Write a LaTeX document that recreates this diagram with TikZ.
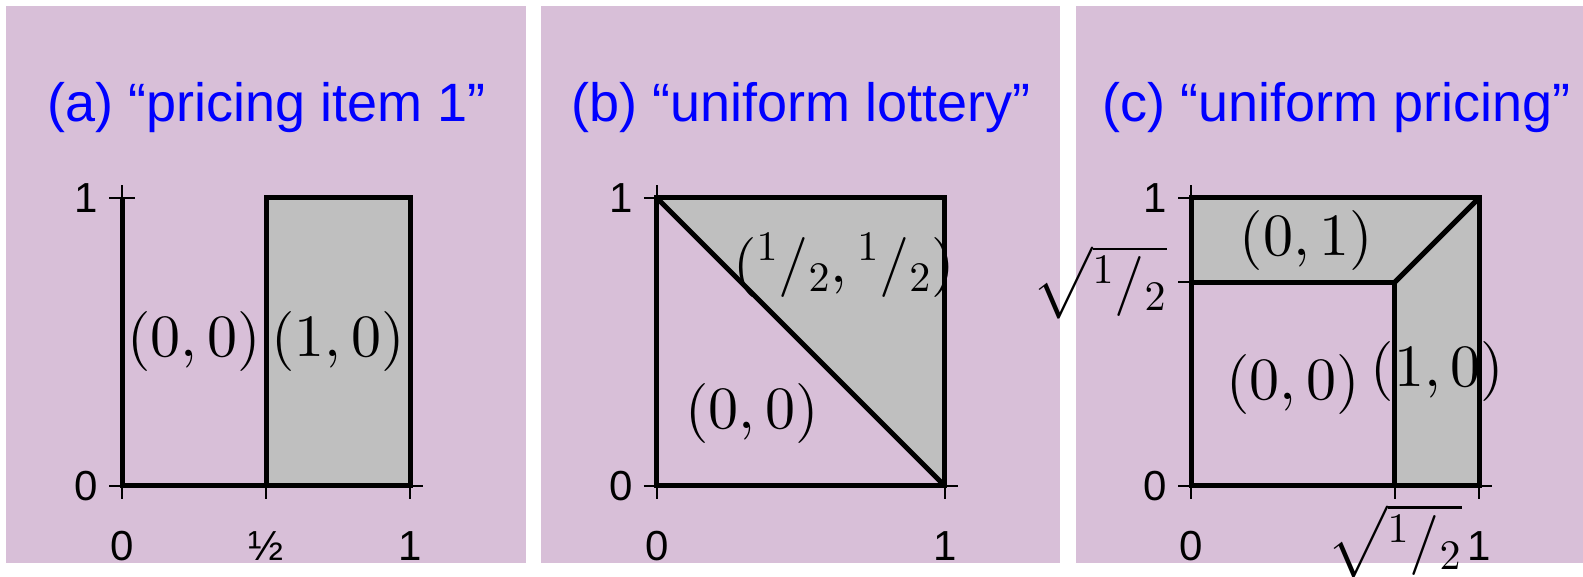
\documentclass[tikz,border=0pt]{standalone}
\usepackage{fontspec}
\setsansfont{Liberation Sans}
\usepackage{tikz}
\usetikzlibrary{positioning}

% scalable math fonts
\DeclareFontShape{OT1}{cmr}{m}{n}{<->cmr10}{}
\DeclareFontShape{OML}{cmm}{m}{it}{<->cmmi10}{}
\DeclareFontShape{OMS}{cmsy}{m}{n}{<->cmsy10}{}
\DeclareFontShape{OMX}{cmex}{m}{n}{<->cmex10}{}

\definecolor{panelbg}{RGB}{216,191,216}
\definecolor{regiongray}{RGB}{191,191,191}
\newcommand{\halfval}{{}^1/{}_2}

\begin{document}
\begin{tikzpicture}[
    x=1pt, y=1pt,
    panel/.style={fill=panelbg, draw=none},
    region/.style={fill=regiongray, draw=none},
    border/.style={line width=2.5pt},
    axisline/.style={line width=0.85pt},
    heading/.style={text=blue, font=\sffamily\fontsize{27}{32}\selectfont, anchor=base},
    ylabel/.style={font=\sffamily\fontsize{21}{25}\selectfont, inner sep=0pt, anchor=east},
    xlabel/.style={font=\sffamily\fontsize{21}{25}\selectfont, inner sep=0pt, anchor=base},
    payoff/.style={font=\fontsize{30}{36}\selectfont, inner sep=0pt}
]
    \useasboundingbox (0,0) rectangle (791.5,288.5);

    % Panels
    \fill[panel] (3,7) rectangle (263,285.5);
    \fill[panel] (270.5,7) rectangle (530,285.5);
    \fill[panel] (538,7) rectangle (791.5,285.5);

    % Headings
    \node[heading] (headA) at (133.5,227.5) {(a) “pricing item 1”};
    \node[heading] (headB) at (400.6,227.5) {(b) “uniform lottery”};
    \node[heading] (headC) at (668.2,227.5) {(c) “uniform pricing”};

    % (a) pricing item 1
    \begin{scope}[shift={(61,45.5)}, x=144pt, y=144pt]
        \fill[region] (0.5,0) rectangle (1,1);
        \draw[axisline] (-0.045,0) -- (1.045,0);
        \draw[axisline] (0,-0.045) -- (0,1.045);
        \foreach \t in {0,0.5,1} \draw[axisline] (\t,-0.045) -- (\t,0.045);
        \foreach \t in {0,1} \draw[axisline] (-0.045,\t) -- (0.045,\t);

        \node[payoff] (noneA) at (0.25,0.5) {$(0,0)$};
        \node[payoff] (oneA) at (0.75,0.5) {$(1,0)$};

        \node[ylabel] (ytopA) at (-0.083,1) {1};
        \node[ylabel] (ybotA) at (-0.083,0) {0};
        \node[xlabel] (xzeroA) at (0,-0.257) {0};
        \node[xlabel] (xhalfA) at (0.5,-0.257) {½};
        \node[xlabel] (xoneA) at (1,-0.257) {1};

        \draw[border] (0,1) -- (0,0) -- (1,0);
        \draw[border] (0.5,0) rectangle (1,1);
    \end{scope}

    % (b) uniform lottery
    \begin{scope}[shift={(328.4,45.5)}, x=144pt, y=144pt]
        \fill[region] (0,1) -- (1,1) -- (1,0) -- cycle;
        \draw[axisline] (-0.045,0) -- (1.045,0);
        \draw[axisline] (0,-0.045) -- (0,1.045);
        \foreach \t in {0,1} \draw[axisline] (\t,-0.045) -- (\t,0.045);
        \foreach \t in {0,1} \draw[axisline] (-0.045,\t) -- (0.045,\t);

        \node[payoff] (lotB) at (0.65,0.765) {$(\halfval,\halfval)$};
        \node[payoff] (noneB) at (0.33,0.25) {$(0,0)$};

        \node[ylabel] (ytopB) at (-0.083,1) {1};
        \node[ylabel] (ybotB) at (-0.083,0) {0};
        \node[xlabel] (xzeroB) at (0,-0.257) {0};
        \node[xlabel] (xoneB) at (1,-0.257) {1};

        \draw[border] (0,0) rectangle (1,1);
        \draw[border] (0,1) -- (1,0);
    \end{scope}

    % (c) uniform pricing
    \begin{scope}[shift={(595.5,45.5)}, x=144pt, y=144pt]
        \fill[region] (0,1) -- (1,1) -- (1,0) -- (0.7071,0) -- (0.7071,0.7071) -- (0,0.7071) -- cycle;
        \draw[axisline] (-0.045,0) -- (1.045,0);
        \draw[axisline] (0,-0.045) -- (0,1.045);
        \foreach \t in {0,0.7071,1} \draw[axisline] (\t,-0.045) -- (\t,0.045);
        \foreach \t in {0,0.7071,1} \draw[axisline] (-0.045,\t) -- (0.045,\t);

        \node[payoff] (bothC) at (0.401,0.851) {$(0,1)$};
        \node[payoff] (noneC) at (0.354,0.352) {$(0,0)$};
        \node[payoff] (oneC) at (0.856,0.396) {$(1,0)$};

        \node[ylabel] (ytopC) at (-0.083,1) {1};
        \node[ylabel, font=\fontsize{30}{36}\selectfont] (ysqrtC) at (-0.083,0.7071) {$\sqrt{\halfval}$};
        \node[ylabel] (ybotC) at (-0.083,0) {0};
        \node[xlabel] (xzeroC) at (0,-0.257) {0};
        \node[xlabel, font=\fontsize{30}{36}\selectfont] (xsqrtC) at (0.7071,-0.257) {$\sqrt{\halfval}$};
        \node[xlabel] (xoneC) at (1,-0.257) {1};

        \draw[border] (0,0) rectangle (1,1);
        \draw[border] (0,0.7071) -- (0.7071,0.7071) -- (0.7071,0);
        \draw[border] (0.7071,0.7071) -- (1,1);
    \end{scope}
\end{tikzpicture}
\end{document}
